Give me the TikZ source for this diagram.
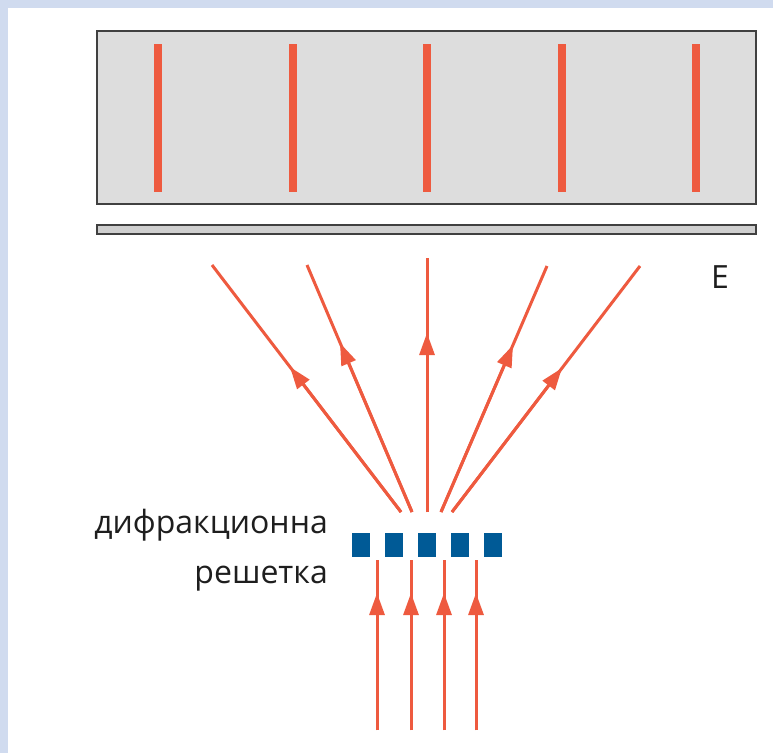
\documentclass[tikz,border=0pt]{standalone}
\usepackage{fontspec}
\setmainfont{Open Sans}
\usetikzlibrary{arrows.meta}
\definecolor{bgblue}{HTML}{D0DBEF}
\definecolor{rayred}{HTML}{EE5A3F}
\definecolor{screengray}{HTML}{DDDDDD}
\definecolor{plategray}{HTML}{CFCFCF}
\definecolor{edgegray}{HTML}{404040}
\definecolor{gratblue}{HTML}{005A96}
\definecolor{txt}{HTML}{1E1E1E}
\tikzset{
  ray/.style={draw=rayred, line width=3pt},
  rayarrow/.style={ray, -{Triangle[length=22pt,width=15pt]}},
  fringe/.style={draw=rayred, line width=8pt},
  slit/.style={fill=gratblue, draw=none, minimum width=18pt, minimum height=24pt, inner sep=0pt},
  lbl/.style={inner sep=0pt, text=txt, font=\fontsize{32}{40}\selectfont},
}
\begin{document}
\begin{tikzpicture}[x=1pt,y=-1pt]
\useasboundingbox (0,0) rectangle (773,753);
\fill[white] (0,0) rectangle (773,753);
\fill[bgblue] (0,0) rectangle (773,8);
\fill[bgblue] (0,0) rectangle (8,753);
% screen
\draw[fill=screengray, draw=edgegray, line width=2pt] (97,31) rectangle (756,204);
\foreach \x in {158,293,427,562,696} \draw[fringe] (\x,44) -- (\x,192);
% plate
\draw[fill=plategray, draw=edgegray, line width=1.8pt] (97,225) rectangle (756,234);
\node[lbl, anchor=base west] (E) at (711,288) {E};
% grating
\foreach \i/\x in {1/361,2/394,3/427,4/460,5/493}
  \node[slit] (g\i) at (\x,545) {};
\node[lbl, anchor=base east] (lab1) at (328,533) {дифракционна};
\node[lbl, anchor=base east] (lab2) at (328,583) {решетка};
% diffracted rays
\coordinate (b1) at (401,512); \coordinate (m1) at (290,367); \coordinate (t1) at (212,265);
\coordinate (b2) at (412,512); \coordinate (m2) at (340,343); \coordinate (t2) at (307,265);
\coordinate (b3) at (427,512); \coordinate (m3) at (427,333); \coordinate (t3) at (427,258);
\coordinate (b4) at (441,512); \coordinate (m4) at (513,345); \coordinate (t4) at (547,266);
\coordinate (b5) at (452,512); \coordinate (m5) at (562,368); \coordinate (t5) at (640,266);
\foreach \i in {1,...,5} {
  \draw[ray] (b\i) -- (t\i);
  \draw[rayarrow] (b\i) -- (m\i);
}
% incident rays
\foreach \i/\x in {1/377,2/411,3/444,4/476} {
  \coordinate (ib\i) at (\x,730);
  \coordinate (im\i) at (\x,593);
  \coordinate (it\i) at (\x,560);
  \draw[ray] (ib\i) -- (it\i);
  \draw[rayarrow] (ib\i) -- (im\i);
}
\end{tikzpicture}
\end{document}
